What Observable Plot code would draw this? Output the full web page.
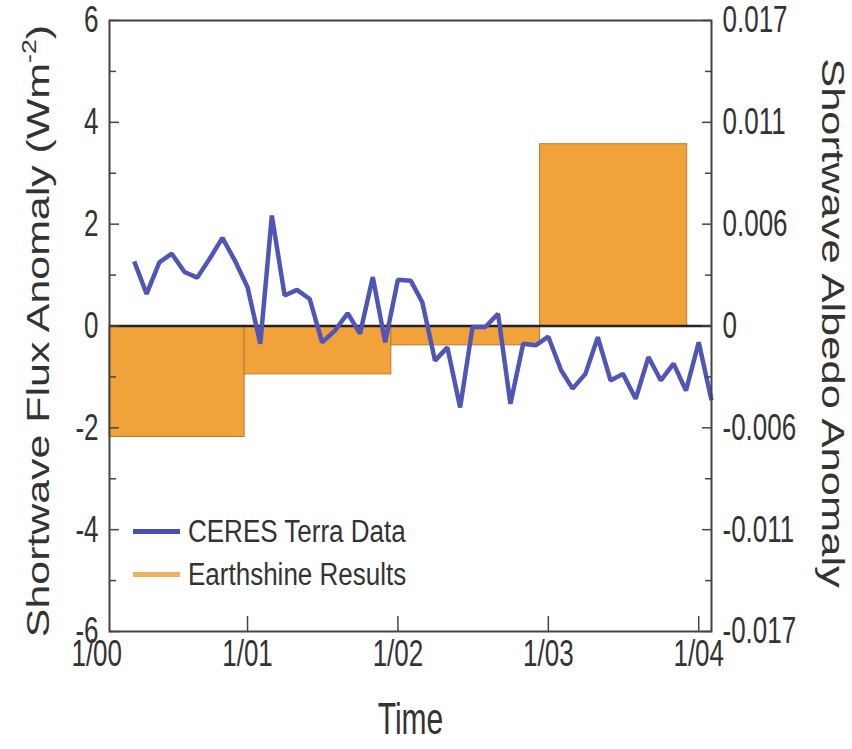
<!DOCTYPE html>
<html><head><meta charset="utf-8">
<script src="https://cdn.jsdelivr.net/npm/d3@7"></script>
<script src="https://cdn.jsdelivr.net/npm/@observablehq/plot@0.6"></script>
<style>
body{margin:0;background:#fff;}
#wrap{position:relative;width:852px;height:749px;}
.legend{position:absolute;left:133px;top:510px;font-family:"Liberation Sans",Arial,sans-serif;font-size:26px;color:#333;}
.legend .item{display:flex;align-items:center;height:43px;}
.legend .sw{width:47px;height:5px;margin-right:8px;}
.legend .t{display:inline-block;transform:scaleY(1.2);}
</style></head><body><div id="wrap"></div>
<script>
// CERES Terra monthly shortwave flux anomaly (W m-2)
const months = ["2000-04","2000-05","2000-06","2000-07","2000-08","2000-09","2000-10","2000-11","2000-12",
  "2001-01","2001-02","2001-03","2001-04","2001-05","2001-06","2001-07","2001-08","2001-09","2001-10","2001-11","2001-12",
  "2002-01","2002-02","2002-03","2002-04","2002-05","2002-06","2002-07","2002-08","2002-09","2002-10","2002-11","2002-12",
  "2003-01","2003-02","2003-03","2003-04","2003-05","2003-06","2003-07","2003-08","2003-09","2003-10","2003-11","2003-12",
  "2004-01","2004-02"];
const fluxAnomaly = [1.27,0.63,1.25,1.42,1.06,0.95,1.32,1.73,1.29,
  0.76,-0.35,2.17,0.60,0.71,0.53,-0.32,-0.09,0.25,-0.15,0.96,-0.32,
  0.91,0.89,0.47,-0.68,-0.42,-1.60,-0.02,-0.02,0.24,-1.53,-0.35,-0.38,
  -0.21,-0.87,-1.23,-0.94,-0.22,-1.07,-0.94,-1.43,-0.61,-1.07,-0.74,-1.27,
  -0.32,-1.46];
// Earthshine yearly results (flux units)
const barStarts = ["2000-02-01","2000-12-25","2001-12-16","2002-12-12"];
const barEnds   = ["2000-12-25","2001-12-16","2002-12-12","2003-12-04"];
const barValues = [-2.18,-0.95,-0.38,3.57];
// axes
const xDomain = ["2000-02-01","2004-02-01"];
const xTickDates = ["2000-01-01","2001-01-01","2002-01-01","2003-01-01","2004-01-01"];
const xTickLabels = ["1/00","1/01","1/02","1/03","1/04"];
const yTicks = [-6,-4,-2,0,2,4,6];
const yTickLabels = ["-6","-4","-2","0","2","4","6"];
const yRightTickLabels = ["-0.017","-0.011","-0.006","0","0.006","0.011","0.017"];
const yMinorTicks = [-5,-3,-1,1,3,5];
const seriesNames = ["CERES Terra Data","Earthshine Results"];
const seriesColors = ["#4f56b6","#f2a23a"];
const legendColors = ["#4a50b0","#eeb264"];
const titles = {left:"Shortwave Flux Anomaly (Wm-2)", right:"Shortwave Albedo Anomaly", bottom:"Time"};

const parse = d3.utcParse("%Y-%m-%d");
const lineData = months.map((m,i)=>({date: parse(m+"-01"), value: fluxAnomaly[i]}));
const barData = barValues.map((v,i)=>({x1: parse(barStarts[i]), x2: parse(barEnds[i]), value: v}));
const xTicks = xTickDates.map(parse);
const xMajor = xTicks.slice(1);
const fmtX = d => xTickLabels[xTicks.findIndex(t => +t === +d)];
const fmtL = d => yTickLabels[yTicks.indexOf(d)];
const fmtR = d => yRightTickLabels[yTicks.indexOf(d)];

const plot = Plot.plot({
  width: 852, height: 749,
  marginLeft: 109, marginRight: 141, marginTop: 20, marginBottom: 118,
  style: {fontFamily: "'Liberation Sans', Arial, sans-serif", color: "#333", background: "#fff", overflow: "visible"},
  x: {type: "utc", domain: xDomain.map(parse)},
  y: {domain: [-6, 6]},
  marks: [
    Plot.rect(barData, {x1:"x1", x2:"x2", y1: 0, y2:"value", fill: seriesColors[1], stroke:"#b27d35", strokeWidth: 1}),
    Plot.ruleY([0], {stroke:"#222", strokeWidth: 2.5}),
    Plot.line(lineData, {x:"date", y:"value", stroke: seriesColors[0], strokeWidth: 4.5, strokeLinejoin:"miter", strokeLinecap:"butt"}),
    Plot.frame({stroke:"#444", strokeWidth: 2}),
    // inward ticks
    Plot.axisY(yTicks, {anchor:"left", tickSize:-10, tickFormat: () => "", label: null, stroke:"#444", strokeWidth: 1.5}),
    Plot.axisY(yMinorTicks, {anchor:"left", tickSize:-7, tickFormat: () => "", label: null, stroke:"#444", strokeWidth: 1.5}),
    Plot.axisY(yTicks, {anchor:"right", tickSize:-10, tickFormat: () => "", label: null, stroke:"#444", strokeWidth: 1.5}),
    Plot.axisY(yMinorTicks, {anchor:"right", tickSize:-7, tickFormat: () => "", label: null, stroke:"#444", strokeWidth: 1.5}),
    Plot.axisX(xMajor, {anchor:"bottom", tickSize:-15, tickFormat: () => "", label: null, stroke:"#444", strokeWidth: 1.5}),
    // tick labels
    Plot.axisY(yTicks, {anchor:"left", tickSize:0, tickPadding: 11, tickFormat: fmtL, fontSize: 26, label: null}),
    Plot.axisY(yTicks, {anchor:"right", tickSize:0, tickPadding: 11, tickFormat: fmtR, fontSize: 26, label: null}),
    Plot.axisX(xTicks, {anchor:"bottom", tickSize:0, tickPadding: 12, tickFormat: fmtX, fontSize: 26, label: null}),
    // axis titles
    Plot.text([titles.left], {text: d => d, frameAnchor:"left", textAnchor:"middle", dx:-71, dy: 5, rotate:-90, fontSize: 32}),
    Plot.text([titles.right], {text: d => d, frameAnchor:"right", textAnchor:"middle", dx:121, dy: -3, rotate:90, fontSize: 32}),
    Plot.text([titles.bottom], {text: d => d, frameAnchor:"bottom", dy: 98, fontSize: 30})
  ]
});
const wrap = document.getElementById("wrap");
wrap.appendChild(plot);

// superscript in left title
plot.querySelectorAll("text").forEach(t => {
  if (t.textContent === titles.left) {
    t.textContent = "";
    const NS = "http://www.w3.org/2000/svg";
    const a = document.createElementNS(NS, "tspan"); a.textContent = "Shortwave Flux Anomaly (Wm";
    const b = document.createElementNS(NS, "tspan"); b.textContent = "-2"; b.setAttribute("font-size", "20"); b.setAttribute("dy", "-13");
    const c = document.createElementNS(NS, "tspan"); c.textContent = ")"; c.setAttribute("dy", "13");
    t.append(a, b, c);
    t.dataset.sx = "1.34";
  } else if (t.textContent === titles.right) {
    t.dataset.sx = "1.36";
  } else if (t.textContent === titles.bottom) {
    t.dataset.sy = "1.45";
  } else if (t.textContent.length && t.closest('g[aria-label$="tick label"]')) {
    t.dataset.sy = "1.4";
  }
});
plot.querySelectorAll("text").forEach(t => {
  const sx = +(t.dataset.sx || 1), sy = +(t.dataset.sy || 1);
  if (sx === 1 && sy === 1) return;
  const bb = t.getBBox();
  const cx = bb.x + bb.width/2, cy = bb.y + bb.height/2;
  const prev = t.getAttribute("transform") || "";
  t.setAttribute("transform", `${prev} translate(${cx},${cy}) scale(${sx},${sy}) translate(${-cx},${-cy})`);
});

// legend
const legend = document.createElement("div");
legend.className = "legend";
seriesNames.forEach((name, i) => {
  const item = document.createElement("div"); item.className = "item";
  const sw = document.createElement("span"); sw.className = "sw"; sw.style.background = legendColors[i];
  const tx = document.createElement("span"); tx.className = "t"; tx.textContent = name;
  item.append(sw, tx); legend.appendChild(item);
});
wrap.appendChild(legend);
</script></body></html>
